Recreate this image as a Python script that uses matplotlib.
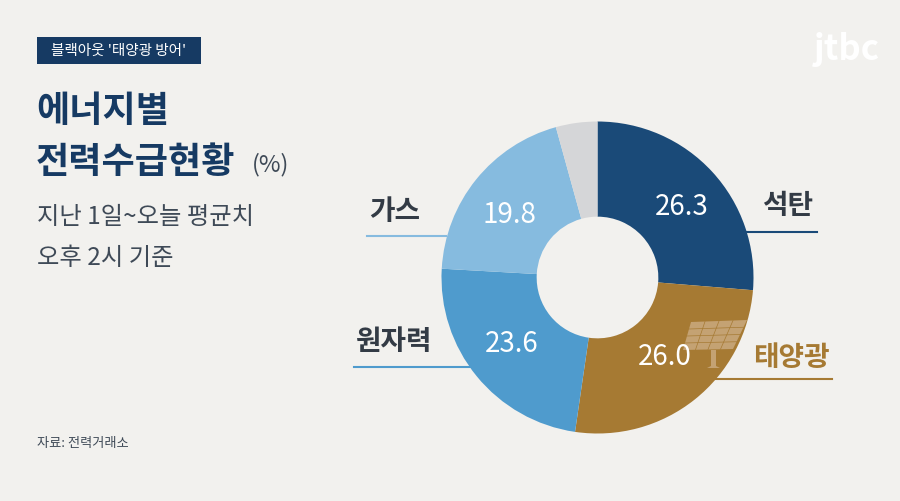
import matplotlib
matplotlib.use('Agg')
import matplotlib.pyplot as plt
from matplotlib.patches import Polygon, Rectangle

plt.rcParams['font.family'] = ['Noto Sans CJK KR', 'DejaVu Sans']

# data, clockwise from the top
labels = ['석탄', '태양광', '원자력', '가스', '기타']
values = [26.3, 26.0, 23.6, 19.8, 4.3]
colors = ['#1a4a78', '#a67a33', '#4f9bcd', '#86bbdf', '#d5d6d8']

bg = '#f2f1ee'
navy = '#163a63'
grey = '#3f4a57'

fig = plt.figure(figsize=(9, 5.01), dpi=100, facecolor=bg)

# donut
ax = fig.add_axes([(597.5 - 156) / 900, (501 - 433.5) / 501, 312 / 900, 312 / 501])
ax.pie(values, colors=colors, startangle=90, counterclock=False, radius=1,
       wedgeprops={'width': 0.61, 'linewidth': 0})
ax.set_xlim(-1, 1)
ax.set_ylim(-1, 1)

# overlay in pixel coordinates for the text
ov = fig.add_axes([0, 0, 1, 1], facecolor='none')
ov.set_xlim(0, 900)
ov.set_ylim(501, 0)
ov.axis('off')

# header box
ov.add_patch(Rectangle((37, 37), 164, 27, facecolor=navy, linewidth=0))
ov.text(119, 50.5, "블랙아웃 '태양광 방어'", color='white', fontsize=10.5, fontweight='medium',
        ha='center', va='center')

# title
ov.text(36, 111, '에너지별', color=navy, fontsize=26, fontweight='bold', va='center')
ov.text(36, 162, '전력수급현황', color=navy, fontsize=26, fontweight='bold', va='center')
ov.text(252, 165, '(%)', color=grey, fontsize=17, va='center')
ov.text(37, 217, '지난 1일~오늘 평균치', color=grey, fontsize=17.5, va='center')
ov.text(37, 258, '오후 2시 기준', color=grey, fontsize=17.5, va='center')
ov.text(37, 443, '자료: 전력거래소', color=grey, fontsize=9.5, va='center')

# logo
ov.text(847, 49, 'jtbc', color='white', fontsize=25, fontweight='bold', ha='center', va='center')

# solar panel
panel = '#c4a273'
ov.add_patch(Polygon([[691, 322], [747, 320], [733, 349], [683, 350]], closed=True,
                     facecolor=panel, edgecolor='none', zorder=3))
for f in [0.25, 0.5, 0.75]:
    ov.plot([691 + 56 * f, 683 + 50 * f], [322 - 2 * f, 350 - 1 * f], color='#a67a33', lw=0.5, zorder=4)
    ov.plot([691 - 8 * f, 747 - 14 * f], [322 + 28 * f, 320 + 29 * f], color='#a67a33', lw=0.5, zorder=4)
ov.add_patch(Polygon([[711, 350], [716, 350], [716, 366], [720, 368], [707, 368], [711, 366]],
                     closed=True, facecolor=panel, edgecolor='none', zorder=3))

# values on the ring
val_pos = [(682, 207), (665, 357), (512, 344), (509, 215)]
for v, (x, y) in zip(values[:4], val_pos):
    ov.text(x, y, f'{v:.1f}', color='white', fontsize=20, ha='center', va='center', zorder=5)

# category labels with rule
lab_pos = [(788, 206), (791, 358), (394, 342), (395, 212)]
lab_col = ['#333b45', '#a67a33', '#333b45', '#333b45']
for name, (x, y), c in zip(labels[:4], lab_pos, lab_col):
    ov.text(x, y, name, color=c, fontsize=20, fontweight='bold', ha='center', va='center', zorder=5)

ov.plot([745, 817], [232, 232], color=colors[0], lw=1.5)
ov.plot([716, 832], [379, 379], color=colors[1], lw=1.5)
ov.plot([354, 470], [367, 367], color=colors[2], lw=1.5)
ov.plot([367, 446], [236, 236], color=colors[3], lw=1.5)

fig.savefig('out.png', dpi=100, facecolor=bg)
